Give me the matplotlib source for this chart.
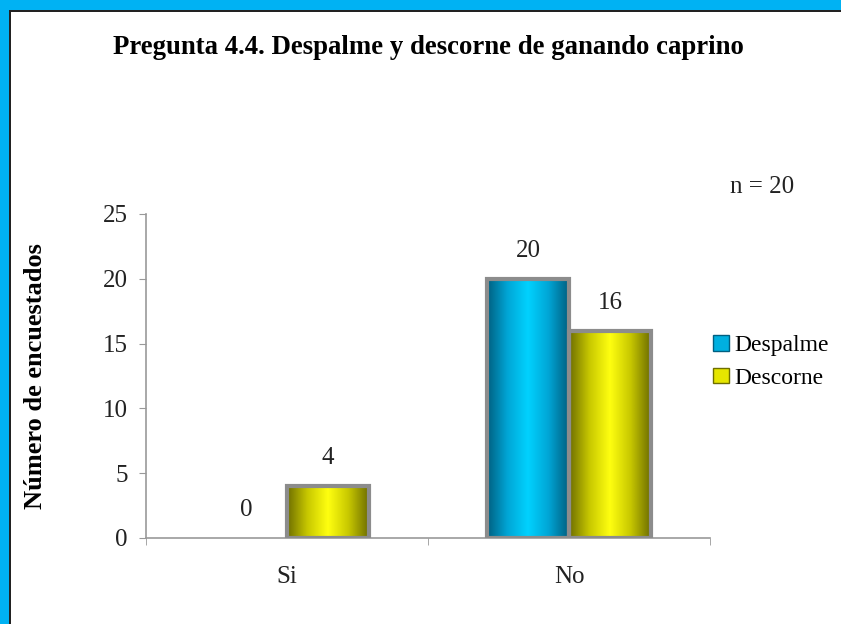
import numpy as np
import matplotlib
matplotlib.use("Agg")
import matplotlib.pyplot as plt
from matplotlib.patches import Rectangle, Patch
from matplotlib.colors import LinearSegmentedColormap

# data
categorias = ["Si", "No"]
despalme = [0, 20]
descorne = [4, 16]
series = ["Despalme", "Descorne"]
n_total = 20

plt.rcParams["font.family"] = ["Liberation Serif", "DejaVu Serif"]

fig = plt.figure(figsize=(8.41, 6.24), dpi=100)
fig.patch.set_facecolor("white")

# blue frame (top and left)
W, H = 841.0, 624.0
fig.patches.append(Rectangle((0, 1 - 10 / H), 1, 10 / H, transform=fig.transFigure,
                             facecolor="#00b2f3", edgecolor="none", zorder=0))
fig.patches.append(Rectangle((0, 0), 9 / W, 1, transform=fig.transFigure,
                             facecolor="#00b2f3", edgecolor="none", zorder=0))
fig.patches.append(Rectangle((9 / W, 0), 2 / W, 1 - 10 / H, transform=fig.transFigure,
                             facecolor="#222222", edgecolor="none", zorder=0))
fig.patches.append(Rectangle((9 / W, 1 - 12 / H), 1, 2 / H, transform=fig.transFigure,
                             facecolor="#222222", edgecolor="none", zorder=0))

ax = fig.add_axes([146 / W, 1 - 538 / H, (710 - 146) / W, (538 - 214) / H])

x = np.arange(len(categorias))
w = 0.29
b1 = ax.bar(x - w / 2, despalme, w, facecolor="#00b8e8", edgecolor="#8c8c8c", linewidth=3, zorder=2)
b2 = ax.bar(x + w / 2, descorne, w, facecolor="#e8e800", edgecolor="#8c8c8c", linewidth=3, zorder=2)

cm_blue = LinearSegmentedColormap.from_list("b", ["#005f80", "#00a6d6", "#00d2ff", "#00a6d6", "#005f80"])
cm_yel = LinearSegmentedColormap.from_list("y", ["#6e6e00", "#c8c800", "#ffff10", "#c8c800", "#6e6e00"])
grad = np.linspace(0, 1, 256).reshape(1, -1)
for bars, cm in ((b1, cm_blue), (b2, cm_yel)):
    for r in bars:
        if r.get_height() <= 0:
            r.set_linewidth(0)
            continue
        x0, y0 = r.get_x(), r.get_y()
        im = ax.imshow(grad, cmap=cm, aspect="auto", extent=[x0, x0 + r.get_width(), y0, y0 + r.get_height()],
                       zorder=2.5, interpolation="bilinear")
        im.set_clip_path(r)
        r.set_facecolor("none")
        r.set_zorder(3)

for bars, vals in ((b1, despalme), (b2, descorne)):
    for r, v in zip(bars, vals):
        ax.text(r.get_x() + r.get_width() / 2, v + 1.3, str(v), ha="center", va="bottom", fontsize=18,
                color="#222222")

ax.set_xlim(-0.5, 1.5)
ax.set_ylim(0, 25)
ax.set_yticks([0, 5, 10, 15, 20, 25])
ax.set_xticks(x)
ax.set_xticklabels(categorias)
ax.set_xticks([-0.5, 0.5, 1.5], minor=True)
ax.tick_params(axis="x", which="major", length=0, pad=20, labelsize=18, labelcolor="#222222")
ax.tick_params(axis="x", which="minor", length=5, color="#999999")
ax.tick_params(axis="y", length=5, color="#999999", labelsize=18, pad=8, labelcolor="#222222")
for s in ("top", "right"):
    ax.spines[s].set_visible(False)
for s in ("left", "bottom"):
    ax.spines[s].set_color("#999999")
    ax.spines[s].set_linewidth(1.2)

ax.set_ylabel("Número de encuestados", fontsize=19, fontweight="bold", labelpad=40)

fig.text(428 / W, 1 - 47 / H, "Pregunta 4.4. Despalme y descorne de ganando caprino",
         ha="center", va="center", fontsize=19.3, fontweight="bold")
fig.text(762 / W, 1 - 187 / H, "n = %d" % n_total, ha="center", va="center", fontsize=18,
         color="#222222")

handles = [Patch(facecolor="#00b0e0", edgecolor="#005f80", label=series[0]),
           Patch(facecolor="#e6e600", edgecolor="#6e6e00", label=series[1])]
fig.legend(handles=handles, loc="center left", bbox_to_anchor=(692 / W, 1 - 362 / H), frameon=False,
           fontsize=17, handlelength=0.65, handleheight=0.65, handletextpad=0.25, labelspacing=0.48)

fig.savefig("out.png", dpi=100)
